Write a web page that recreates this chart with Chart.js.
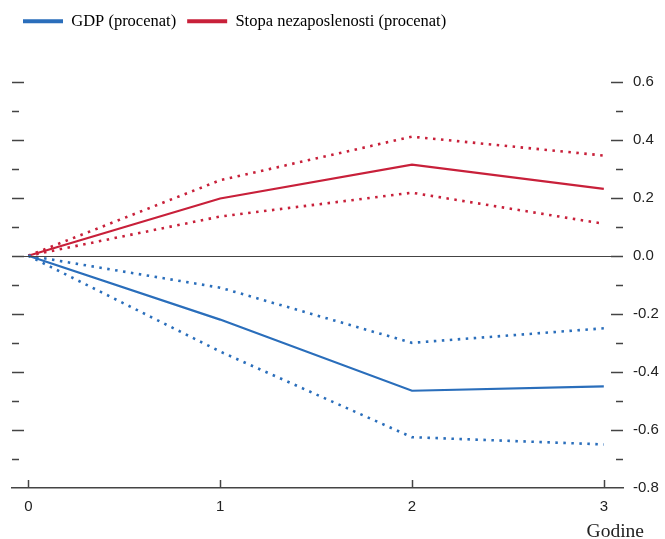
<!DOCTYPE html>
<html>
<head>
<meta charset="utf-8">
<script src="https://cdn.jsdelivr.net/npm/chart.js@4/dist/chart.umd.min.js"></script>
<style>
  html, body { margin: 0; padding: 0; background: #fff; }
  #wrap { width: 665px; height: 539px; }
</style>
</head>
<body>
<div id="wrap"><canvas id="chart"></canvas></div>
<script>
// godine nakon šoka
const years = [0, 1, 2, 3];

// GDP (procenat): odziv i interval pouzdanosti
const gdp = [0, -0.22, -0.465, -0.45];
const gdpUpper = [0, -0.11, -0.30, -0.25];
const gdpLower = [0, -0.33, -0.625, -0.65];

// Stopa nezaposlenosti (procenat)
const unemp = [0, 0.197, 0.314, 0.23];
const unempUpper = [0, 0.26, 0.41, 0.345];
const unempLower = [0, 0.135, 0.217, 0.11];

const yTicks = [-0.8, -0.7, -0.6, -0.5, -0.4, -0.3, -0.2, -0.1, 0, 0.1, 0.2, 0.3, 0.4, 0.5, 0.6];

const BLUE = '#2a6ebb';
const RED = '#c8203a';
const AXIS = '#444';

function pts(arr) {
  return arr.map((v, i) => ({ x: years[i], y: v }));
}

function line(label, data, color, dotted, inLegend) {
  return {
    label: label,
    data: pts(data),
    borderColor: color,
    backgroundColor: color,
    borderWidth: dotted ? 2.6 : 2.2,
    borderDash: dotted ? [2.5, 5.5] : [],
    pointRadius: 0,
    tension: 0,
    fill: false,
    inLegend: inLegend
  };
}

// unutrašnje crtice na osama, nulta linija i naziv x ose
const axisMarks = {
  id: 'axisMarks',
  beforeInit(chart) {
    const fit = chart.legend.fit;
    chart.legend.fit = function () {
      fit.bind(this)();
      this.height += 42;
    };
  },
  afterDatasetsDraw(chart) {
    const ctx = chart.ctx;
    const a = chart.chartArea;
    const y = chart.scales.y;
    const x = chart.scales.x;
    ctx.save();
    ctx.strokeStyle = AXIS;
    ctx.lineWidth = 1.5;
    yTicks.forEach((v, i) => {
      if (v === -0.8) return;
      const py = Math.round(y.getPixelForValue(v)) + 0.5;
      const major = i % 2 === 0;
      ctx.beginPath();
      ctx.moveTo(a.left, py);
      ctx.lineTo(a.left + (major ? 12 : 7), py);
      ctx.moveTo(a.right, py);
      ctx.lineTo(a.right - (major ? 12 : 7), py);
      ctx.stroke();
    });
    years.forEach(v => {
      const px = Math.round(x.getPixelForValue(v)) + 0.5;
      ctx.beginPath();
      ctx.moveTo(px, a.bottom);
      ctx.lineTo(px, a.bottom - 8);
      ctx.stroke();
    });
    const zy = Math.round(y.getPixelForValue(0)) + 0.5;
    ctx.lineWidth = 1.2;
    ctx.beginPath();
    ctx.moveTo(a.left, zy);
    ctx.lineTo(a.right, zy);
    ctx.stroke();
    ctx.fillStyle = '#222';
    ctx.font = '19.5px "Liberation Serif", "Times New Roman", serif';
    ctx.textAlign = 'right';
    ctx.textBaseline = 'middle';
    ctx.fillText('Godine', a.right + 21, a.bottom + 44);
    ctx.restore();
  }
};

new Chart(document.getElementById('chart'), {
  type: 'line',
  data: {
    datasets: [
      line('GDP (procenat)', gdp, BLUE, false, true),
      line('GDP gornja granica', gdpUpper, BLUE, true, false),
      line('GDP donja granica', gdpLower, BLUE, true, false),
      line('Stopa nezaposlenosti (procenat)', unemp, RED, false, true),
      line('Nezaposlenost gornja granica', unempUpper, RED, true, false),
      line('Nezaposlenost donja granica', unempLower, RED, true, false)
    ]
  },
  options: {
    responsive: true,
    maintainAspectRatio: false,
    animation: false,
    layout: { padding: { left: 12, right: 4, top: 2, bottom: 13 } },
    plugins: {
      tooltip: { enabled: false },
      legend: {
        position: 'top',
        align: 'start',
        labels: {
          boxWidth: 40,
          boxHeight: 4,
          padding: 11,
          color: '#222',
          font: { family: '"Liberation Serif", "Times New Roman", serif', size: 16.5 },
          generateLabels(chart) {
            return chart.data.datasets
              .map((ds, i) => ({ ds, i }))
              .filter(o => o.ds.inLegend)
              .map(o => ({
                text: o.ds.label,
                fillStyle: o.ds.borderColor,
                strokeStyle: o.ds.borderColor,
                lineWidth: 0,
                hidden: false,
                datasetIndex: o.i
              }));
          }
        }
      }
    },
    scales: {
      x: {
        type: 'linear',
        min: -0.085,
        max: 3.1,
        afterBuildTicks(s) { s.ticks = years.map(v => ({ value: v })); },
        grid: { display: false, drawTicks: false },
        border: { display: true, color: AXIS, width: 1.5 },
        ticks: {
          padding: 10,
          color: '#222',
          font: { family: '"Liberation Sans", Arial, sans-serif', size: 15 },
          callback: v => String(v)
        }
      },
      y: {
        position: 'right',
        min: -0.8,
        max: 0.6,
        afterBuildTicks(s) { s.ticks = yTicks.map(v => ({ value: v })); },
        afterFit(s) { s.width = 38; },
        grid: { display: false, drawTicks: false },
        border: { display: false },
        ticks: {
          padding: 10,
          color: '#222',
          font: { family: '"Liberation Sans", Arial, sans-serif', size: 15 },
          callback: (v, i) => (i % 2 === 0 ? v.toFixed(1) : '')
        }
      }
    }
  },
  plugins: [axisMarks]
});
</script>
</body>
</html>
